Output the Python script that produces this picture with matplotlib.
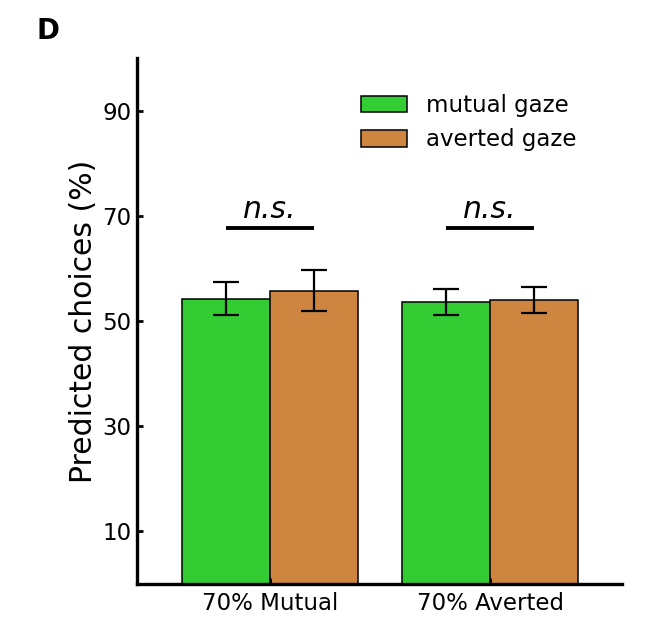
import matplotlib
matplotlib.use("Agg")
import matplotlib.pyplot as plt
import numpy as np

conditions = ["70% Mutual", "70% Averted"]
mutual_mean = [54.3, 53.7]
mutual_err = [3.2, 2.5]
averted_mean = [55.8, 54.0]
averted_err = [3.9, 2.55]
series_labels = ["mutual gaze", "averted gaze"]
sig_level = 67.7
sig_text = ["n.s.", "n.s."]

fig = plt.figure(figsize=(6.64, 6.4), dpi=100)
ax = fig.add_axes([0.206, 0.0875, 0.731, 0.8215])

x = np.arange(len(conditions))
w = 0.4
ekw = dict(elinewidth=1.6, capthick=1.6)
ax.bar(x - w/2, mutual_mean, w, yerr=mutual_err, color="#33CC33", edgecolor="black",
       linewidth=1.1, capsize=9.5, error_kw=ekw, label=series_labels[0])
ax.bar(x + w/2, averted_mean, w, yerr=averted_err, color="peru", edgecolor="black",
       linewidth=1.1, capsize=9.5, error_kw=ekw, label=series_labels[1])

for i, t in enumerate(sig_text):
    ax.plot([x[i] - w/2, x[i] + w/2], [sig_level, sig_level], color="black", lw=2.8,
            solid_capstyle="butt")
    ax.text(x[i], sig_level + 0.7, t, ha="center", va="bottom", fontsize=21.5, style="italic")

ax.set_xlim(-0.605, 1.6)
ax.set_ylim(0, 100)
ax.set_yticks([10, 30, 50, 70, 90])
ax.set_xticks(x)
ax.set_xticklabels(conditions)
ax.tick_params(direction="in", length=4, width=2, labelsize=16.5, pad=4)
ax.tick_params(axis="x", pad=6)
ax.set_ylabel("Predicted choices (%)", fontsize=21.5, labelpad=3)
for s in ["top", "right"]:
    ax.spines[s].set_visible(False)
for s in ["left", "bottom"]:
    ax.spines[s].set_linewidth(2.4)

ax.legend(loc="upper left", bbox_to_anchor=(0.462, 0.932), frameon=False, fontsize=16.5,
          borderpad=0, borderaxespad=0, handlelength=2.0, handleheight=0.75,
          handletextpad=0.83)

fig.text(0.055, 0.952, "D", fontsize=20, fontweight="bold", ha="left", va="center")

fig.savefig("out.png", dpi=100)
